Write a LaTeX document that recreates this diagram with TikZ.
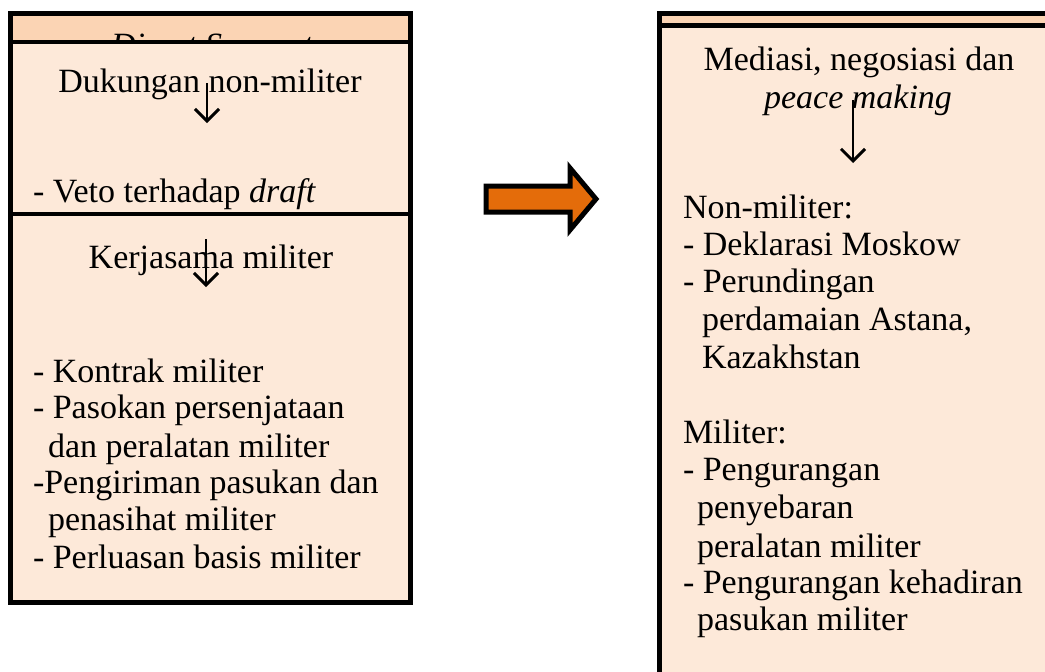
\documentclass[tikz,border=0pt]{standalone}
\usepackage{fontspec}
\setmainfont{Liberation Serif}
\usetikzlibrary{arrows.meta}
\definecolor{hdrfill}{HTML}{FBD4B4}
\definecolor{bodyfill}{HTML}{FDE9D9}
\definecolor{bigorange}{HTML}{E46C0A}
\tikzset{
  txt/.style={inner sep=0pt, outer sep=0pt, anchor=base west, font=\fontsize{34}{37}\selectfont},
  ctxt/.style={txt, anchor=base},
  boxline/.style={line width=5pt, line join=miter},
  sepline/.style={line width=4.5pt},
  flowarrow/.style={line width=2.8pt, -{Straight Barb[length=12pt,width=24pt,line width=3pt]}},
  bigarrow/.style={fill=bigorange, draw=black, line width=5pt, line join=miter}
}
\begin{document}
\begin{tikzpicture}[x=1pt,y=-1pt]
\clip (0,0) rectangle (1045,672);
% ---------- left box ----------
\fill[hdrfill] (10.5,13.5) rectangle (410.5,42);
\begin{scope}
  \clip (10.5,13.5) rectangle (410.5,42);
  \node[ctxt, font=\fontsize{34}{37}\selectfont\itshape] (hdr) at (212,56) {Direct Support};
\end{scope}
\fill[bodyfill] (10.5,42) rectangle (410.5,602);
\draw[boxline] (10.5,13.5) rectangle (410.5,602);
\draw[sepline] (10.5,42) -- (410.5,42);
\draw[sepline] (10.5,214) -- (410.5,214);

\node[ctxt] (dnm) at (210,92) {Dukungan non-militer};
\node[txt] (veto) at (33,202) {- Veto terhadap \textit{draft}};
\node[ctxt] (km) at (211,268) {Kerjasama militer};
\node[txt] (l1) at (33,382) {- Kontrak militer};
\node[txt] (l2) at (33,418) {- Pasokan persenjataan};
\node[txt] (l3) at (48,457) {dan peralatan militer};
\node[txt] (l4) at (33,493) {-Pengiriman pasukan dan};
\node[txt] (l5) at (48,530) {penasihat militer};
\node[txt] (l6) at (33,568) {- Perluasan basis militer};

\coordinate (a1s) at (207,83);
\coordinate (a1e) at (207,123);
\coordinate (a2s) at (206,239);
\coordinate (a2e) at (206,287);
\draw[flowarrow] (a1s) -- (a1e);
\draw[flowarrow] (a2s) -- (a2e);

% ---------- big arrow ----------
\draw[bigarrow] (486,186) -- (570,186) -- (570,168) -- (596,199) -- (570,230) -- (570,212) -- (486,212) -- cycle;

% ---------- right box ----------
\fill[hdrfill] (659.5,13.5) rectangle (1050,25.5);
\fill[bodyfill] (659.5,25.5) rectangle (1050,680);
\draw[boxline] (1050,13.5) -- (659.5,13.5) -- (659.5,680);
\draw[sepline] (659.5,25.5) -- (1050,25.5);

\node[ctxt] (med) at (859,70) {Mediasi, negosiasi dan};
\node[ctxt] (pm) at (858,108) {\textit{peace making}};
\node[txt] (r1) at (683,218) {Non-militer:};
\node[txt] (r2) at (683,255) {- Deklarasi Moskow};
\node[txt] (r3) at (683,292) {- Perundingan};
\node[txt] (r4) at (702,330) {perdamaian Astana,};
\node[txt] (r5) at (702,368) {Kazakhstan};
\node[txt] (r6) at (683,443) {Militer:};
\node[txt] (r7) at (683,480) {- Pengurangan};
\node[txt] (r8) at (697,518) {penyebaran};
\node[txt] (r9) at (697,557) {peralatan militer};
\node[txt] (r10) at (683,593) {- Pengurangan kehadiran};
\node[txt] (r11) at (697,630) {pasukan militer};

\coordinate (a3s) at (853,100);
\coordinate (a3e) at (853,163);
\draw[flowarrow] (a3s) -- (a3e);
\end{tikzpicture}
\end{document}
